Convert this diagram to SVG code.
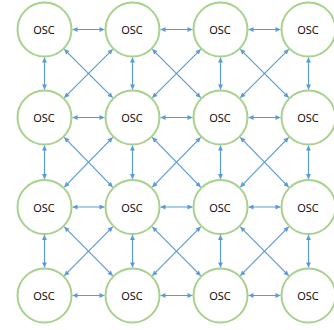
<svg xmlns="http://www.w3.org/2000/svg" width="334" height="330" viewBox="0 0 334 330">
<defs>
<style>
.n circle{fill:#fff;stroke:#A9D18E;stroke-width:2}
.n text{font-family:"Open Sans","Liberation Sans",sans-serif;font-size:11px;fill:#000;text-anchor:middle;dominant-baseline:central}
#edges line{stroke:#5B9BD5;stroke-width:1.2;marker-start:url(#ah);marker-end:url(#ah)}
</style>
<marker id="ah" viewBox="0 0 6 6" refX="6" refY="3" markerWidth="6" markerHeight="5" markerUnits="userSpaceOnUse" orient="auto-start-reverse">
<path d="M0,0 L6,3 L0,6 z" fill="#5B9BD5"/>
</marker>
</defs>
<rect width="334" height="330" fill="#fff"/>
<g id="edges">
<line x1="72.5" y1="29.5" x2="104.5" y2="29.5"/>
<line x1="160.5" y1="29.5" x2="192.5" y2="29.5"/>
<line x1="248.5" y1="29.5" x2="280.5" y2="29.5"/>
<line x1="72.5" y1="117.5" x2="104.5" y2="117.5"/>
<line x1="160.5" y1="117.5" x2="192.5" y2="117.5"/>
<line x1="248.5" y1="117.5" x2="280.5" y2="117.5"/>
<line x1="72.5" y1="207" x2="104.5" y2="207"/>
<line x1="160.5" y1="207" x2="192.5" y2="207"/>
<line x1="248.5" y1="207" x2="280.5" y2="207"/>
<line x1="72.5" y1="295.5" x2="104.5" y2="295.5"/>
<line x1="160.5" y1="295.5" x2="192.5" y2="295.5"/>
<line x1="248.5" y1="295.5" x2="280.5" y2="295.5"/>
<line x1="44.5" y1="57.5" x2="44.5" y2="89.5"/>
<line x1="132.5" y1="57.5" x2="132.5" y2="89.5"/>
<line x1="220.5" y1="57.5" x2="220.5" y2="89.5"/>
<line x1="308.5" y1="57.5" x2="308.5" y2="89.5"/>
<line x1="44.5" y1="145.5" x2="44.5" y2="179"/>
<line x1="132.5" y1="145.5" x2="132.5" y2="179"/>
<line x1="220.5" y1="145.5" x2="220.5" y2="179"/>
<line x1="308.5" y1="145.5" x2="308.5" y2="179"/>
<line x1="44.5" y1="235" x2="44.5" y2="267.5"/>
<line x1="132.5" y1="235" x2="132.5" y2="267.5"/>
<line x1="220.5" y1="235" x2="220.5" y2="267.5"/>
<line x1="308.5" y1="235" x2="308.5" y2="267.5"/>
<line x1="64.3" y1="49.3" x2="112.7" y2="97.7"/>
<line x1="112.7" y1="49.3" x2="64.3" y2="97.7"/>
<line x1="152.3" y1="49.3" x2="200.7" y2="97.7"/>
<line x1="200.7" y1="49.3" x2="152.3" y2="97.7"/>
<line x1="240.3" y1="49.3" x2="288.7" y2="97.7"/>
<line x1="288.7" y1="49.3" x2="240.3" y2="97.7"/>
<line x1="64.3" y1="137.3" x2="112.7" y2="187.2"/>
<line x1="112.7" y1="137.3" x2="64.3" y2="187.2"/>
<line x1="152.3" y1="137.3" x2="200.7" y2="187.2"/>
<line x1="200.7" y1="137.3" x2="152.3" y2="187.2"/>
<line x1="240.3" y1="137.3" x2="288.7" y2="187.2"/>
<line x1="288.7" y1="137.3" x2="240.3" y2="187.2"/>
<line x1="64.3" y1="226.8" x2="112.7" y2="275.7"/>
<line x1="112.7" y1="226.8" x2="64.3" y2="275.7"/>
<line x1="152.3" y1="226.8" x2="200.7" y2="275.7"/>
<line x1="200.7" y1="226.8" x2="152.3" y2="275.7"/>
<line x1="240.3" y1="226.8" x2="288.7" y2="275.7"/>
<line x1="288.7" y1="226.8" x2="240.3" y2="275.7"/>
</g>
<g id="n11" class="n"><circle cx="44.5" cy="29.5" r="27"/><text x="44" y="29.5">OSC</text></g>
<g id="n12" class="n"><circle cx="132.5" cy="29.5" r="27"/><text x="132" y="29.5">OSC</text></g>
<g id="n13" class="n"><circle cx="220.5" cy="29.5" r="27"/><text x="220" y="29.5">OSC</text></g>
<g id="n14" class="n"><circle cx="308.5" cy="29.5" r="27"/><text x="308" y="29.5">OSC</text></g>
<g id="n21" class="n"><circle cx="44.5" cy="117.5" r="27"/><text x="44" y="117.5">OSC</text></g>
<g id="n22" class="n"><circle cx="132.5" cy="117.5" r="27"/><text x="132" y="117.5">OSC</text></g>
<g id="n23" class="n"><circle cx="220.5" cy="117.5" r="27"/><text x="220" y="117.5">OSC</text></g>
<g id="n24" class="n"><circle cx="308.5" cy="117.5" r="27"/><text x="308" y="117.5">OSC</text></g>
<g id="n31" class="n"><circle cx="44.5" cy="207" r="27"/><text x="44" y="207">OSC</text></g>
<g id="n32" class="n"><circle cx="132.5" cy="207" r="27"/><text x="132" y="207">OSC</text></g>
<g id="n33" class="n"><circle cx="220.5" cy="207" r="27"/><text x="220" y="207">OSC</text></g>
<g id="n34" class="n"><circle cx="308.5" cy="207" r="27"/><text x="308" y="207">OSC</text></g>
<g id="n41" class="n"><circle cx="44.5" cy="295.5" r="27"/><text x="44" y="295.5">OSC</text></g>
<g id="n42" class="n"><circle cx="132.5" cy="295.5" r="27"/><text x="132" y="295.5">OSC</text></g>
<g id="n43" class="n"><circle cx="220.5" cy="295.5" r="27"/><text x="220" y="295.5">OSC</text></g>
<g id="n44" class="n"><circle cx="308.5" cy="295.5" r="27"/><text x="308" y="295.5">OSC</text></g>
</svg>
